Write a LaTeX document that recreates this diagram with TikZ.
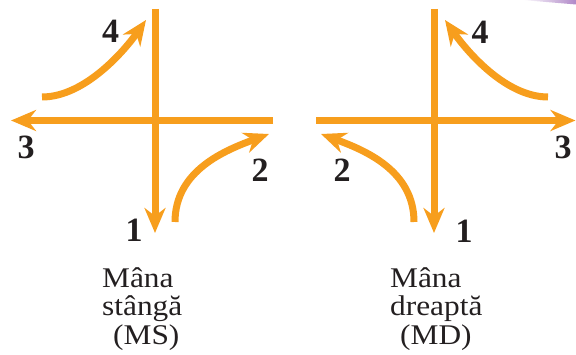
\documentclass[tikz,border=0pt]{standalone}
\usepackage{fontspec}
\setmainfont{Liberation Serif}
\newfontfamily\lblfont[FakeStretch=1.1]{Liberation Serif}
\usetikzlibrary{arrows.meta}
\definecolor{orng}{RGB}{247,158,29}
\definecolor{ink}{RGB}{35,31,32}
\definecolor{lilac}{RGB}{176,136,200}
\tikzset{
  axis/.style={draw=orng, line width=7pt, line cap=butt},
  arr/.style={axis, -{Stealth[length=25pt, width=21pt, inset=8pt]}},
  num/.style={inner sep=0pt, text=ink, font=\fontsize{34}{34}\selectfont\bfseries},
  lbl/.style={inner sep=0pt, anchor=base west, text=ink, font=\fontsize{28.5}{28.5}\selectfont\lblfont}
}
\begin{document}
\begin{tikzpicture}[x=1pt, y=-1pt]
\useasboundingbox (0,0) rectangle (576,355);
% decoration
\shade[left color=white, right color=lilac] (522,0) -- (576,0) -- (576,4.5) -- cycle;

% ---- left cross (MS)
\coordinate (Ltop) at (155,9);
\coordinate (Lbot) at (155,233);
\coordinate (Lright) at (273,120.5);
\coordinate (Lleft) at (11,120.5);
\coordinate (L4s) at (42,97);
\coordinate (L4e) at (146,20);
\coordinate (L2s) at (175,222);
\coordinate (L2e) at (269,134);
\draw[arr] (Ltop) -- (Lbot);
\draw[arr] (Lright) -- (Lleft);
\draw[arr] (L4s) .. controls (85,97) and (125,50) .. (L4e);
\draw[arr] (L2s) .. controls (175,170) and (226,150) .. (L2e);
\node[num] (l4) at (110.5,31) {4};
\node[num] (l3) at (26,147) {3};
\node[num] (l2) at (260,170) {2};
\node[num] (l1) at (134,230) {1};
\node[lbl] (lt1) at (102,288) {Mâna};
\node[lbl] (lt2) at (102,316) {stângă};
\node[lbl] (lt3) at (113,345) {(MS)};

% ---- right cross (MD)
\coordinate (Rtop) at (434,9);
\coordinate (Rbot) at (434,233);
\coordinate (Rleft) at (316,120.5);
\coordinate (Rright) at (575.5,120.5);
\coordinate (R4s) at (548,97);
\coordinate (R4e) at (445,20);
\coordinate (R2s) at (414,222);
\coordinate (R2e) at (321,134);
\draw[arr] (Rtop) -- (Rbot);
\draw[arr] (Rleft) -- (Rright);
\draw[arr] (R4s) .. controls (505,97) and (466,50) .. (R4e);
\draw[arr] (R2s) .. controls (414,170) and (364,150) .. (R2e);
\node[num] (r4) at (480,32) {4};
\node[num] (r3) at (563,147) {3};
\node[num] (r2) at (342,170) {2};
\node[num] (r1) at (464,231) {1};
\node[lbl] (rt1) at (390,288) {Mâna};
\node[lbl] (rt2) at (390,316) {dreaptă};
\node[lbl] (rt3) at (400,345) {(MD)};
\end{tikzpicture}
\end{document}
